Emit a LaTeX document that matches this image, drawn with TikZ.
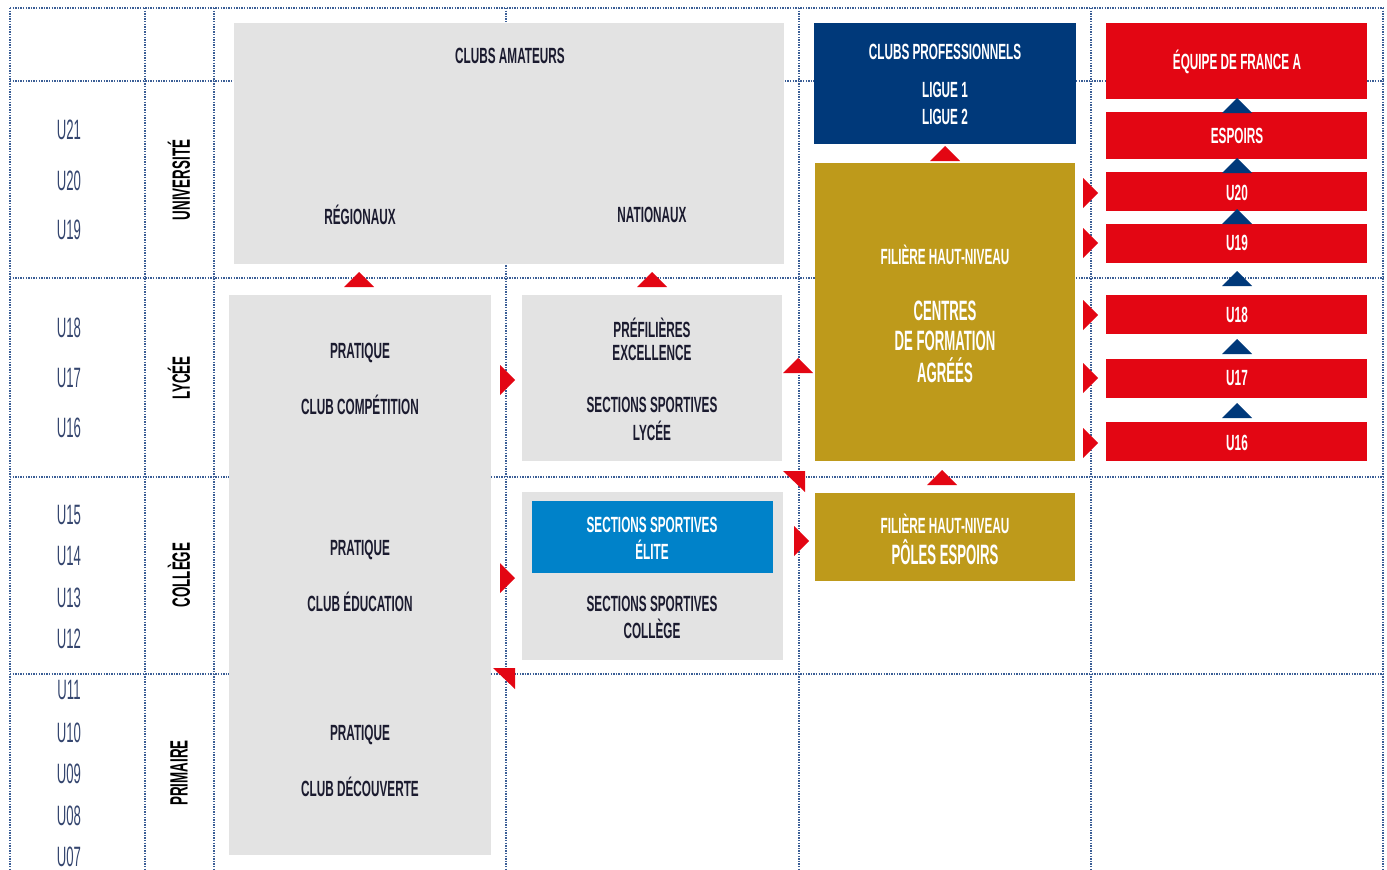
\documentclass[tikz,border=0pt]{standalone}
\usepackage{fontspec}
\newfontfamily\cnd[FakeStretch=0.535]{Liberation Sans}
\newfontfamily\cndn[FakeStretch=0.47]{Liberation Sans}
\definecolor{gbox}{HTML}{E3E3E3}
\definecolor{navy}{HTML}{00397A}
\definecolor{gold}{HTML}{BE9A1B}
\definecolor{fred}{HTML}{E30613}
\definecolor{lblue}{HTML}{0082C9}
\definecolor{gridc}{HTML}{3B5E96}
\definecolor{dtext}{HTML}{1B1B2F}
\definecolor{ulab}{HTML}{34456E}
\tikzset{
  x=1pt,y=-1pt,
  gridline/.style={gridc,line width=1.3pt,dash pattern=on 1.3pt off 1.3pt},
  boxg/.style={fill=gbox,draw=none,anchor=north west,inner sep=0},
  boxn/.style={fill=navy,draw=none,anchor=north west,inner sep=0},
  boxo/.style={fill=gold,draw=none,anchor=north west,inner sep=0},
  boxr/.style={fill=fred,draw=none,anchor=north west,inner sep=0},
  boxb/.style={fill=lblue,draw=none,anchor=north west,inner sep=0},
  txt/.style={inner sep=0,text=dtext,font=\cnd\bfseries\fontsize{22}{24}\selectfont},
  wtxt/.style={txt,text=white},
  bigtxt/.style={txt,font=\cndn\bfseries\fontsize{28}{30}\selectfont},
  ulabel/.style={inner sep=0,text=ulab,font=\cndn\fontsize{28}{30}\selectfont},
  rotlab/.style={inner sep=0,text=black,rotate=90,font=\cnd\bfseries\fontsize{25}{27}\selectfont},
}
\newcommand\uptri[3]{\fill[#3] ({#1-15},#2) -- ({#1+15},#2) -- (#1,{#2-15}) -- cycle;}
\newcommand\rttri[3]{\fill[#3] (#1,{#2-15}) -- (#1,{#2+15}) -- ({#1+15},#2) -- cycle;}
\newcommand\dgtri[2]{\fill[fred] (#1,#2) -- ({#1+22},#2) -- ({#1+22},{#2+21}) -- cycle;}
\begin{document}
\begin{tikzpicture}
\useasboundingbox (0,0) rectangle (1387,870);
% grid
\foreach \gx in {10,145,214,506,799,1091,1383} {\draw[gridline] (\gx,8) -- (\gx,870);}
\foreach \gy in {8,81,278,477,674} {\draw[gridline] (10,\gy) -- (1383,\gy);}
% left labels
\foreach \lab/\ly in {U21/130,U20/181,U19/230,U18/328,U17/378,U16/428,U15/515,U14/556,U13/598,U12/639,U11/690,U10/733,U09/774,U08/816,U07/857}
  {\node[ulabel] (l\lab) at (69,\ly) {\lab};}
\node[rotlab] (univ) at (179,180) {UNIVERSITÉ};
\node[rotlab] (lycee) at (179,378) {LYCÉE};
\node[rotlab] (college) at (179,575) {COLLÈGE};
\node[rotlab] (primaire) at (179,773) {PRIMAIRE};
% clubs amateurs
\node[boxg,minimum width=550,minimum height=241] (ama) at (234,23) {};
\node[txt] (amat) at (510,56) {CLUBS AMATEURS};
\node[txt] (reg) at (360,215) {RÉGIONAUX};
\node[txt] (nat) at (652,215) {NATIONAUX};
% pratique
\node[boxg,minimum width=262,minimum height=560] (prat) at (229,295) {};
\node[txt] (p1) at (360,353) {PRATIQUE};
\node[txt] (p1b) at (360,405) {CLUB COMPÉTITION};
\node[txt] (p2) at (360,550) {PRATIQUE};
\node[txt] (p2b) at (360,602) {CLUB ÉDUCATION};
\node[txt] (p3) at (360,735) {PRATIQUE};
\node[txt] (p3b) at (360,787) {CLUB DÉCOUVERTE};
% lycee sections
\node[boxg,minimum width=260,minimum height=166] (lyc) at (522,295) {};
\node[txt] (pf1) at (652,328) {PRÉFILIÈRES};
\node[txt] (pf2) at (652,353) {EXCELLENCE};
\node[txt] (sl1) at (652,405) {SECTIONS SPORTIVES};
\node[txt] (sl2) at (652,431) {LYCÉE};
% college sections
\node[boxg,minimum width=261,minimum height=168] (col) at (522,492) {};
\node[boxb,minimum width=241,minimum height=72] (elite) at (532,501) {};
\node[wtxt] (el1) at (652,525) {SECTIONS SPORTIVES};
\node[wtxt] (el2) at (652,550) {ÉLITE};
\node[txt] (sc1) at (652,604) {SECTIONS SPORTIVES};
\node[txt] (sc2) at (652,629) {COLLÈGE};
% clubs pro
\node[boxn,minimum width=262,minimum height=121] (pro) at (814,23) {};
\node[wtxt] (pro1) at (945,52) {CLUBS PROFESSIONNELS};
\node[wtxt] (pro2) at (945,90) {LIGUE 1};
\node[wtxt] (pro3) at (945,117) {LIGUE 2};
% centres de formation
\node[boxo,minimum width=260,minimum height=298] (cdf) at (815,163) {};
\node[wtxt] (cdf1) at (945,255) {FILIÈRE HAUT-NIVEAU};
\node[bigtxt,text=white] (cdf2) at (945,311) {CENTRES};
\node[bigtxt,text=white] (cdf3) at (945,341) {DE FORMATION};
\node[bigtxt,text=white] (cdf4) at (945,370) {AGRÉÉS};
% poles espoirs
\node[boxo,minimum width=260,minimum height=88] (pol) at (815,493) {};
\node[wtxt] (pol1) at (945,524) {FILIÈRE HAUT-NIVEAU};
\node[bigtxt,text=white] (pol2) at (945,552) {PÔLES ESPOIRS};
% equipe de france column
\node[boxr,minimum width=261,minimum height=76] (edf) at (1106,23) {};
\node[wtxt] (edft) at (1237,62) {ÉQUIPE DE FRANCE A};
\node[boxr,minimum width=261,minimum height=47] (esp) at (1106,112) {};
\node[wtxt] (espt) at (1237,136) {ESPOIRS};
\foreach \nm/\ty/\tt in {U20/172/193,U19/224/243,U18/295/315,U17/359/378,U16/422/443}{
  \node[boxr,minimum width=261,minimum height=39] (r\nm) at (1106,\ty) {};
  \node[wtxt] (rt\nm) at (1237,\tt) {\nm};
}
% navy triangles
\foreach \by in {113,173,224,286,354,418} {\uptri{1237}{\by}{navy}}
% red triangles
\foreach \by in {193,243,315,378,443} {\rttri{1083}{\by}{fred}}
\uptri{359}{287}{fred}
\uptri{652}{287}{fred}
\uptri{945}{161}{fred}
\uptri{942}{485}{fred}
\uptri{798}{373}{fred}
\rttri{500}{380}{fred}
\rttri{500}{578}{fred}
\rttri{794}{541}{fred}
\dgtri{783}{471}
\dgtri{493}{668}
\end{tikzpicture}
\end{document}
